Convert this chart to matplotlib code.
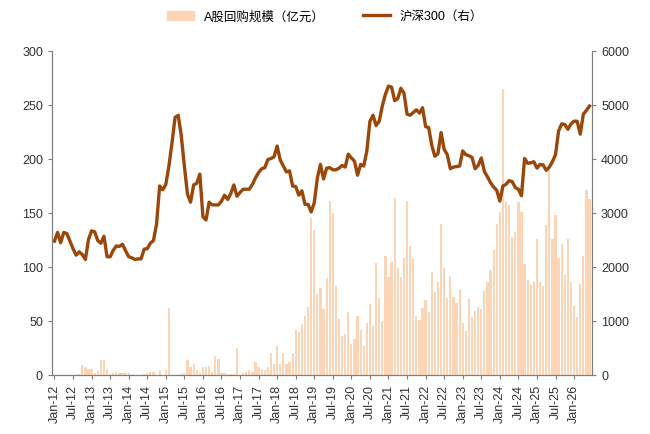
import numpy as np
import matplotlib.pyplot as plt
from matplotlib.lines import Line2D
from matplotlib.patches import Patch

plt.rcParams['font.family'] = ['Liberation Sans', 'Noto Sans CJK SC', 'DejaVu Sans']

# -- data: monthly, Jan-12 .. May-26 ----------------------------------------
buyback = [0, 0, 0, 0, 0, 0, 0, 1, 1, 9, 7, 6, 6, 2, 4, 14, 14, 6, 1, 2,
           3, 2, 2, 2, 2, 1, 0, 0, 0, 1, 2, 3, 3, 0, 5, 0, 5, 62, 0, 0,
           0, 1, 2, 14, 7, 10, 5, 2, 7, 7, 8, 3, 18, 15, 2, 2, 1, 1, 1, 25,
           0, 2, 3, 5, 3, 12, 7, 6, 5, 7, 20, 10, 27, 10, 20, 10, 12, 20, 42, 40,
           47, 55, 63, 145, 134, 75,
           81, 61, 90, 161, 150, 82, 52, 36, 38, 58, 29, 33, 55, 42, 27, 48, 66,
           45, 104, 71, 50, 110, 91, 105, 164, 99, 91, 108, 161, 119, 107, 55, 51,
           62, 69, 58, 95, 77, 86, 140, 99, 71, 92, 72, 67, 79, 48, 41, 70, 54,
           59, 63, 61, 78, 86, 97, 116, 140, 151, 265, 160, 157, 128, 132, 160,
           151, 103, 88, 83, 86, 126, 86, 82, 139, 190, 126, 148, 108, 121, 93,
           126, 86, 64, 54, 84, 110, 171, 163]
csi300 = [2480, 2640, 2450, 2640, 2620, 2480, 2340, 2220, 2280, 2230, 2140, 2510,
          2670, 2650, 2490, 2440, 2570, 2190, 2190, 2310, 2390, 2380, 2420, 2300,
          2190, 2170, 2140, 2150, 2150, 2330, 2340, 2440, 2490, 2790, 3500, 3430,
          3530, 3870, 4300, 4770, 4810, 4430, 3870, 3350, 3200, 3520, 3550, 3720,
          2930, 2870, 3200, 3150, 3150, 3150, 3220, 3330, 3250, 3360, 3520, 3310,
          3380, 3440, 3440, 3440, 3530, 3650, 3750, 3820, 3840, 3990, 4010, 4040,
          4240, 3980, 3870, 3760, 3780, 3500, 3490, 3330, 3410, 3160, 3160, 3020,
          3190, 3650,
          3900, 3630, 3830, 3840, 3800, 3800, 3830, 3880, 3850, 4090, 4020, 3960,
          3700, 3900, 3870, 4150, 4700, 4810, 4620, 4700, 4980, 5200, 5350, 5330,
          5080, 5120, 5310, 5220, 4830, 4810, 4860, 4910, 4850, 4950, 4600, 4580,
          4250, 4050, 4100, 4490, 4180, 4080, 3820, 3850, 3860, 3870, 4150, 4080,
          4060, 4030, 3820, 3880, 4020, 3770, 3670, 3560, 3480, 3420, 3220, 3500,
          3530, 3600, 3580, 3470, 3440, 3320, 4010, 3920, 3930, 3950, 3830, 3900,
          3890, 3790, 3850, 3950, 4080, 4520, 4650, 4640, 4550, 4650, 4700, 4700,
          4460, 4830, 4900, 4980]
tick_labels = [f"{m}-{y:02d}" for y in range(12, 27) for m in ("Jan", "Jul")][:-1]

n = min(len(buyback), len(csi300))
x = np.arange(n)

bar_c = "#fbd5b5"
line_c = "#9a4709"
axis_c = "#7f7f7f"

fig = plt.figure(figsize=(6.5, 4.35), dpi=100)
ax = fig.add_axes([52 / 650, 59 / 435, 540 / 650, 324 / 435])
ax.bar(x, buyback[:n], width=0.72, color=bar_c)
ax.set_ylim(0, 300)
ax.set_yticks(range(0, 301, 50))
ax.set_xlim(-0.8, n - 0.2)
ax.set_xticks(np.arange(0, n, 6))
ax.set_xticklabels(tick_labels[:len(np.arange(0, n, 6))], rotation=90)

ax2 = ax.twinx()
ax2.plot(x, csi300[:n], color=line_c, lw=2.4)
ax2.set_ylim(0, 6000)
ax2.set_yticks(range(0, 6001, 1000))

for a in (ax, ax2):
    a.spines["top"].set_visible(False)
    for s in ("left", "right", "bottom"):
        a.spines[s].set_color(axis_c)
    a.tick_params(colors="#333333", labelsize=9, length=3, color=axis_c)

handles = [Patch(color=bar_c, label="A股回购规模（亿元）"),
           Line2D([], [], color=line_c, lw=2.4, label="沪深300（右）")]
fig.legend(handles=handles, loc="upper center", bbox_to_anchor=(0.5, 1.0),
           ncol=2, frameon=False, fontsize=9, handlelength=2.2, columnspacing=3)

fig.savefig("out.png", dpi=100)
